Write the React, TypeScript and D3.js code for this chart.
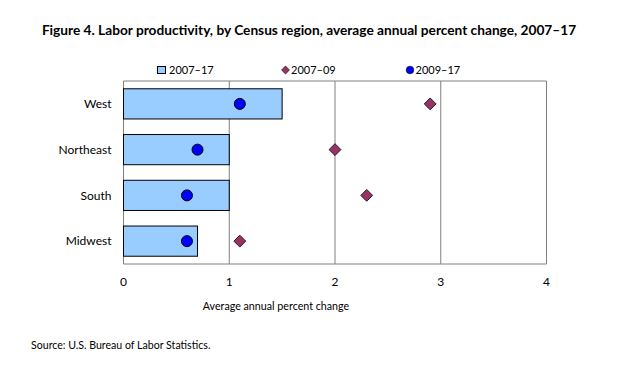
import React, { useEffect, useRef } from "react";
import * as d3 from "d3";

const regions = ["West", "Northeast", "South", "Midwest"];
const change0717 = [1.5, 1.0, 1.0, 0.7];
const change0709 = [2.9, 2.0, 2.3, 1.1];
const change0917 = [1.1, 0.7, 0.6, 0.6];
const xTicks = [0, 1, 2, 3, 4];
const legendLabels = ["2007–17", "2007–09", "2009–17"];

const FONT = "Lato, 'Open Sans', sans-serif";

const App = () => {
  const ref = useRef<SVGSVGElement>(null);

  useEffect(() => {
    const svg = d3.select(ref.current);
    svg.selectAll("*").remove();

    const margin = { top: 81, left: 123.5, right: 71.5, bottom: 103 };
    const W = 618;
    const H = 367;
    const width = W - margin.left - margin.right;
    const height = H - margin.top - margin.bottom;

    const x = d3.scaleLinear().domain([0, 4]).range([0, width]);
    const y = d3.scaleBand().domain(regions).range([0, height]).paddingInner(0.34).paddingOuter(0.17);

    svg
      .append("text")
      .attr("x", 309)
      .attr("y", 35)
      .attr("text-anchor", "middle")
      .attr("font-family", FONT)
      .attr("font-weight", "bold")
      .attr("font-size", 13.7)
      .text("Figure 4. Labor productivity, by Census region, average annual percent change, 2007–17");

    const g = svg.append("g").attr("transform", `translate(${margin.left},${margin.top})`);

    // gridlines
    g.selectAll("line.grid")
      .data(xTicks)
      .join("line")
      .attr("class", "grid")
      .attr("x1", (d) => x(d))
      .attr("x2", (d) => x(d))
      .attr("y1", 0)
      .attr("y2", height)
      .attr("stroke", "#808080")
      .attr("stroke-width", 1);

    g.append("line")
      .attr("x1", 0)
      .attr("x2", width)
      .attr("y1", 0)
      .attr("y2", 0)
      .attr("stroke", "#808080");
    g.append("line")
      .attr("x1", 0)
      .attr("x2", width)
      .attr("y1", height)
      .attr("y2", height)
      .attr("stroke", "#808080");

    // bars
    g.selectAll("rect.bar")
      .data(regions)
      .join("rect")
      .attr("class", "bar")
      .attr("x", 0)
      .attr("y", (d) => y(d)!)
      .attr("width", (d, i) => x(change0717[i]))
      .attr("height", y.bandwidth())
      .attr("fill", "#99ccff")
      .attr("stroke", "#000")
      .attr("stroke-width", 1);

    const cy = (d: string) => y(d)! + y.bandwidth() / 2;

    // diamonds
    g.selectAll("path.dia")
      .data(regions)
      .join("path")
      .attr("class", "dia")
      .attr("d", d3.symbol(d3.symbolDiamond2, 90)())
      .attr("transform", (d, i) => `translate(${x(change0709[i])},${cy(d)})`)
      .attr("fill", "#993366")
      .attr("stroke", "#000")
      .attr("stroke-width", 0.8);

    // circles
    g.selectAll("circle.dot")
      .data(regions)
      .join("circle")
      .attr("class", "dot")
      .attr("cx", (d, i) => x(change0917[i]))
      .attr("cy", cy)
      .attr("r", 5.5)
      .attr("fill", "#0000ff")
      .attr("stroke", "#000")
      .attr("stroke-width", 1);

    // category labels
    g.selectAll("text.cat")
      .data(regions)
      .join("text")
      .attr("class", "cat")
      .attr("x", -12)
      .attr("y", cy)
      .attr("dy", "0.35em")
      .attr("text-anchor", "end")
      .attr("font-family", FONT)
      .attr("font-size", 12)
      .attr("fill", "#000")
      .text((d) => d);

    // x tick labels
    g.selectAll("text.tick")
      .data(xTicks)
      .join("text")
      .attr("class", "tick")
      .attr("x", (d) => x(d))
      .attr("y", height + 22)
      .attr("text-anchor", "middle")
      .attr("font-family", FONT)
      .attr("font-size", 12)
      .text((d) => d);

    svg
      .append("text")
      .attr("x", 276)
      .attr("y", margin.top + height + 46)
      .attr("text-anchor", "middle")
      .attr("font-family", FONT)
      .attr("font-size", 10.7)
      .text("Average annual percent change");

    // legend
    const lg = svg.append("g").attr("font-family", FONT).attr("font-size", 11);
    const legY = 70;
    lg.append("rect")
      .attr("x", 157.5)
      .attr("y", legY - 3.5)
      .attr("width", 8)
      .attr("height", 7)
      .attr("fill", "#99ccff")
      .attr("stroke", "#000");
    lg.append("text").attr("x", 169).attr("y", legY).attr("dy", "0.35em").text(legendLabels[0]);
    lg.append("path")
      .attr("d", d3.symbol(d3.symbolDiamond2, 40)())
      .attr("transform", `translate(285.5,${legY})`)
      .attr("fill", "#993366")
      .attr("stroke", "#000")
      .attr("stroke-width", 0.6);
    lg.append("text").attr("x", 291).attr("y", legY).attr("dy", "0.35em").text(legendLabels[1]);
    lg.append("circle")
      .attr("cx", 410)
      .attr("cy", legY)
      .attr("r", 3.8)
      .attr("fill", "#0000ff")
      .attr("stroke", "#000")
      .attr("stroke-width", 0.6);
    lg.append("text").attr("x", 415.5).attr("y", legY).attr("dy", "0.35em").text(legendLabels[2]);

    svg
      .append("text")
      .attr("x", 31)
      .attr("y", 349)
      .attr("font-family", FONT)
      .attr("font-size", 10.6)
      .text("Source: U.S. Bureau of Labor Statistics.");
  }, []);

  return (
    <svg
      ref={ref}
      width={618}
      height={367}
      style={{ position: "absolute", left: 0, top: 0, background: "#fff" }}
    />
  );
};

export default App;
